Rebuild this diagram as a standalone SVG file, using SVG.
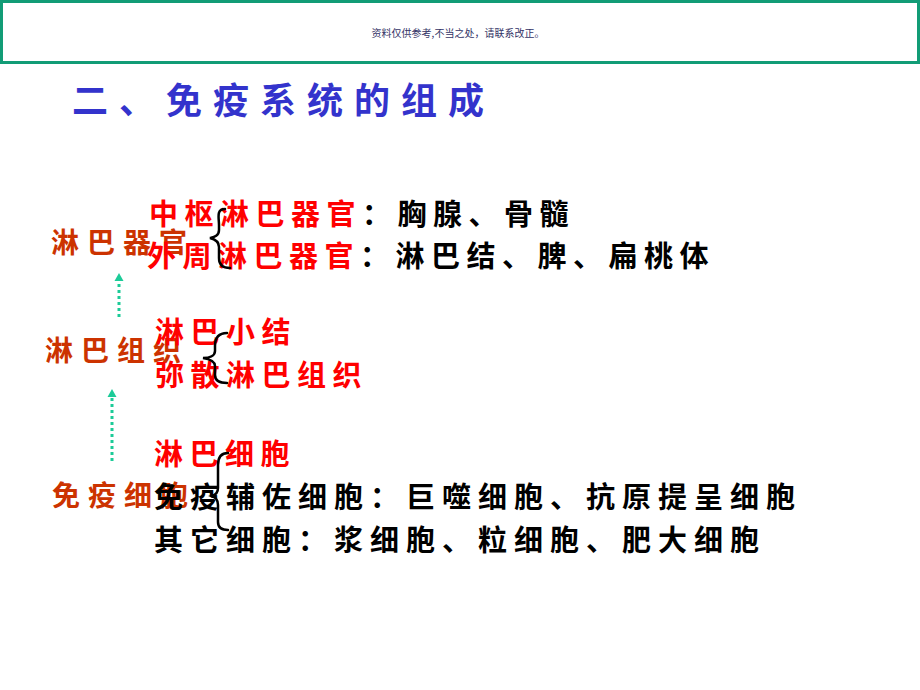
<svg xmlns="http://www.w3.org/2000/svg" width="920" height="690" viewBox="0 0 920 690">
<style>
.t{font-family:"Noto Sans CJK SC","Noto Sans CJK JP",sans-serif;font-weight:bold}
.red{fill:#ff0000;font-size:29px;letter-spacing:6.5px}
.blk{fill:#000000;font-size:29px;letter-spacing:6.5px}
.blk2{fill:#000000;font-size:29px;letter-spacing:7px}
.lbl{fill:#cc3300;font-size:28px;letter-spacing:8px}
.brace{fill:none;stroke:#000;stroke-width:2.5;stroke-linecap:round}
.dot{stroke:#1ccb98;stroke-width:3;stroke-dasharray:3 3;fill:none}
.head{fill:#1ccb98}
</style>
<rect x="0" y="0" width="920" height="690" fill="#ffffff"/>
<g id="header">
<rect x="1.5" y="1.5" width="917" height="61" fill="#ffffff" stroke="#129c76" stroke-width="3"/>
<text x="458" y="37" text-anchor="middle" font-family="'Noto Sans CJK SC',sans-serif" font-size="10" fill="#333366">资料仅供参考,不当之处，请联系改正。</text>
</g>
<g id="title">
<text x="72" y="114" class="t" font-size="36" letter-spacing="11" fill="#3333cc">二、免疫系统的组成</text>
</g>
<g id="lymph-organs">
<text x="51" y="253" class="t lbl">淋巴器官</text>
</g>
<g id="central-organs">
<text x="149" y="225" class="t red">中枢淋巴器官<tspan class="blk">：胸腺、骨髓</tspan></text>
</g>
<g id="peripheral-organs">
<text x="147" y="267" class="t red">外周淋巴器官<tspan class="blk">：淋巴结、脾、扁桃体</tspan></text>
</g>
<g id="lymph-tissue">
<text x="45" y="361" class="t lbl">淋巴组织</text>
</g>
<g id="lymph-nodule">
<text x="155" y="343" class="t red">淋巴小结</text>
</g>
<g id="diffuse-tissue">
<text x="155" y="386" class="t red">弥散淋巴组织</text>
</g>
<g id="immune-cells">
<text x="52" y="506" class="t lbl">免疫细胞</text>
</g>
<g id="lymphocytes">
<text x="154" y="465" class="t red">淋巴细胞</text>
</g>
<g id="accessory-cells">
<text x="154" y="508" class="t blk2">免疫辅佐细胞：巨噬细胞、抗原提呈细胞</text>
</g>
<g id="other-cells">
<text x="154" y="551" class="t blk2">其它细胞：浆细胞、粒细胞、肥大细胞</text>
</g>
<g id="connectors">
<path class="brace" d="M225,209 C216,209 219,218 219,225 L219,230 C219,236 214,237 210,238 C214,239 219,241 219,247 L219,258 C219,266 224,268 230,268"/>
<path class="brace" d="M227,333 C217,333 215,340 215,346 L215,351 C215,356 209,358 203,358 C209,359 215,361 215,366 L215,375 C215,381 220,383 227,383"/>
<path class="brace" d="M228,453 C221,453 218,458 218,465 L218,488 C218,493 215,495 212,496 C215,497 218,500 218,505 L218,522 C218,528 222,530 228,530"/>
<line class="dot" x1="119" y1="317" x2="119" y2="282"/>
<polygon class="head" points="119,273 114.5,281 123.5,281"/>
<line class="dot" x1="112" y1="461" x2="112" y2="398"/>
<polygon class="head" points="112,389 107.5,397 116.5,397"/>
</g>
</svg>
